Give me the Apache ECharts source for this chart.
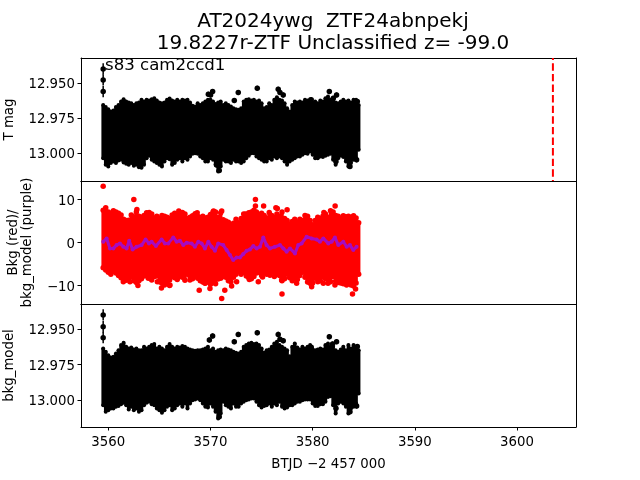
<!DOCTYPE html>
<html><head><meta charset="utf-8">
<style>html,body{margin:0;padding:0;background:#fff}#c{width:640px;height:480px}</style>
<script src="https://cdn.jsdelivr.net/npm/echarts@6/dist/echarts.min.js"></script>
</head><body><div id="c"></div>
<script>
const timeGrid=[3559.5,3559.75,3560,3560.25,3560.5,3560.75,3561,3561.25,3561.5,3561.75,
3562,3562.25,3562.5,3562.75,3563,3563.25,3563.5,3563.75,3564,3564.25,
3564.5,3564.75,3565,3565.25,3565.5,3565.75,3566,3566.25,3566.5,3566.75,
3567,3567.25,3567.5,3567.75,3568,3568.25,3568.5,3568.75,3569,3569.25,
3569.5,3569.75,3570,3570.25,3570.5,3570.75,3571,3571.25,3571.5,3571.75,
3572,3572.25,3572.5,3572.75,3573,3573.25,3573.5,3573.75,3574,3574.25,
3574.5,3574.75,3575,3575.25,3575.5,3575.75,3576,3576.25,3576.5,3576.75,
3577,3577.25,3577.5,3577.75,3578,3578.25,3578.5,3578.75,3579,3579.25,
3579.5,3579.75,3580,3580.25,3580.5,3580.75,3581,3581.25,3581.5,3581.75,
3582,3582.25,3582.5,3582.75,3583,3583.25,3583.5,3583.75,3584,3584.25,3584.5];
const tmagTop=[12.9657,12.9673,12.9688,12.9704,12.9697,12.9673,12.9657,12.9633,12.9616,12.9633,
12.9640,12.9645,12.9657,12.9645,12.9640,12.9621,12.9633,12.9621,12.9626,12.9616,
12.9609,12.9626,12.9640,12.9645,12.9640,12.9621,12.9611,12.9626,12.9633,12.9621,
12.9633,12.9621,12.9626,12.9621,12.9640,12.9664,12.9669,12.9645,12.9657,12.9645,
12.9633,12.9621,12.9621,12.9633,12.9650,12.9640,12.9633,12.9657,12.9645,12.9657,
12.9669,12.9681,12.9688,12.9692,12.9681,12.9633,12.9621,12.9616,12.9626,12.9621,
12.9633,12.9626,12.9645,12.9681,12.9673,12.9645,12.9657,12.9621,12.9602,12.9621,
12.9626,12.9645,12.9681,12.9704,12.9657,12.9633,12.9640,12.9633,12.9640,12.9621,
12.9626,12.9616,12.9640,12.9633,12.9645,12.9626,12.9633,12.9609,12.9597,12.9621,
12.9621,12.9640,12.9645,12.9633,12.9621,12.9633,12.9626,12.9640,12.9621,12.9621,12.9657];
const tmagBottom=[13.0038,13.0085,13.0097,13.0073,13.0061,13.0073,13.0054,13.0049,13.0068,13.0078,
13.0085,13.0073,13.0092,13.0085,13.0102,13.0107,13.0085,13.0038,13.0021,13.0049,
13.0061,13.0073,13.0085,13.0097,13.0061,13.0038,13.0045,13.0085,13.0073,13.0049,
13.0038,13.0061,13.0038,13.0049,13.0026,13.0007,13.0002,13.0007,13.0026,13.0038,
13.0061,13.0061,13.0038,13.0049,13.0085,13.0133,13.0097,13.0049,13.0061,13.0061,
13.0073,13.0049,13.0061,13.0061,13.0073,13.0061,13.0038,13.0021,13.0002,13.0002,
13.0026,13.0038,13.0049,13.0061,13.0061,13.0038,13.0049,13.0026,13.0038,13.0026,
13.0038,13.0061,13.0085,13.0061,13.0049,13.0038,13.0026,13.0026,13.0014,13.0002,
13.0007,12.9990,13.0014,13.0038,13.0038,13.0026,13.0030,13.0021,13.0014,13.0007,
13.0049,13.0085,13.0038,13.0021,13.0030,13.0061,13.0097,13.0073,13.0049,13.0038,12.9978];
const modelTop=[12.9637,12.9660,12.9684,12.9700,12.9696,12.9672,12.9649,12.9613,12.9597,12.9625,
12.9637,12.9630,12.9644,12.9637,12.9649,12.9649,12.9625,12.9637,12.9625,12.9613,
12.9606,12.9637,12.9625,12.9637,12.9649,12.9625,12.9606,12.9625,12.9637,12.9625,
12.9630,12.9620,12.9625,12.9637,12.9644,12.9649,12.9653,12.9649,12.9649,12.9644,
12.9637,12.9625,12.9649,12.9637,12.9660,12.9649,12.9644,12.9649,12.9637,12.9644,
12.9649,12.9660,12.9667,12.9672,12.9660,12.9625,12.9613,12.9602,12.9597,12.9606,
12.9602,12.9613,12.9637,12.9667,12.9649,12.9644,12.9625,12.9602,12.9590,12.9613,
12.9625,12.9637,12.9649,12.9691,12.9625,12.9602,12.9630,12.9644,12.9625,12.9637,
12.9625,12.9613,12.9644,12.9649,12.9644,12.9637,12.9644,12.9613,12.9602,12.9625,
12.9625,12.9649,12.9660,12.9644,12.9625,12.9649,12.9613,12.9637,12.9613,12.9625,12.9649];
const modelBottom=[13.0036,13.0083,13.0072,13.0060,13.0060,13.0048,13.0043,13.0029,13.0020,13.0036,
13.0067,13.0048,13.0072,13.0060,13.0083,13.0072,13.0036,13.0020,13.0013,13.0029,
13.0036,13.0060,13.0072,13.0090,13.0072,13.0048,13.0036,13.0072,13.0060,13.0036,
13.0025,13.0048,13.0025,13.0060,13.0025,13.0001,12.9996,12.9989,13.0001,13.0025,
13.0048,13.0053,13.0025,13.0048,13.0083,13.0130,13.0095,13.0013,13.0036,13.0048,
13.0060,13.0025,13.0048,13.0048,13.0025,13.0013,13.0001,12.9996,12.9989,12.9989,
13.0013,13.0036,13.0053,13.0043,13.0036,13.0025,13.0048,13.0025,13.0036,13.0013,
13.0048,13.0060,13.0053,13.0036,13.0036,13.0025,13.0013,13.0013,13.0001,12.9996,
12.9996,12.9996,13.0025,13.0043,13.0043,13.0029,13.0029,13.0013,12.9978,12.9973,
13.0036,13.0095,13.0025,13.0013,13.0025,13.0048,13.0095,13.0060,13.0048,13.0025,12.9954];
const bkgTop=[7.4,8.0,7.0,6.7,7.3,7.0,6.7,6.3,5.3,5.0,
5.1,6.3,5.9,7.0,6.0,5.8,6.2,6.8,6.9,6.5,
5.6,6.0,5.5,6.2,6.0,5.8,5.5,6.3,6.7,6.4,
6.2,6.9,6.5,5.5,5.8,6.1,6.6,6.0,5.7,6.0,
5.6,5.8,6.4,7.0,7.0,5.8,6.8,5.2,4.9,4.6,
3.9,4.4,5.3,4.5,5.5,6.5,6.0,6.8,7.0,7.4,
7.0,6.4,6.7,6.2,5.6,6.9,6.2,5.7,6.5,6.0,
7.0,5.5,5.0,4.2,4.8,5.3,4.6,5.3,5.0,6.2,
6.0,5.0,4.0,5.0,5.8,5.4,6.0,6.5,5.8,7.3,
7.0,6.2,6.0,5.5,6.1,5.9,6.0,5.8,6.1,5.6,4.5];
const bkgBottom=[-6.0,-6.5,-7.0,-7.5,-6.8,-7.2,-7.8,-8.3,-8.7,-8.9,
-8.5,-8.0,-9.0,-9.4,-9.0,-8.5,-7.9,-7.5,-7.8,-8.8,
-8.0,-7.9,-9.2,-9.6,-10.0,-9.2,-8.8,-8.0,-8.3,-8.7,
-8.0,-8.2,-8.9,-7.5,-8.0,-8.5,-7.8,-8.4,-9.0,-9.3,
-9.5,-9.2,-9.8,-9.4,-9.7,-8.6,-8.4,-8.0,-8.2,-9.0,
-9.2,-8.2,-7.5,-6.8,-7.5,-7.0,-7.9,-8.3,-8.5,-8.0,
-7.2,-7.0,-7.8,-7.0,-7.5,-6.9,-7.0,-8.0,-7.5,-7.8,
-9.0,-8.5,-7.5,-8.3,-9.0,-8.5,-8.7,-7.8,-7.0,-8.2,
-9.3,-9.6,-9.5,-8.4,-9.2,-9.0,-8.0,-8.5,-9.6,-9.2,
-8.0,-9.1,-9.4,-9.5,-9.7,-9.0,-9.4,-10.0,-10.2,-9.5,-7.5];
const tmagOutliers=[[3559.5,12.940,0.004],[3559.5,12.9479,0.004],[3559.5,12.9562,0.004],
[3569.79,12.9581,0.0018],[3570.21,12.9562,0.0018],[3570.01,12.9586,0.0018],[3572.33,12.9626,0.0018],[3572.72,12.9569,0.0018],
[3574.58,12.9538,0.0018],[3576.63,12.9545,0.0018],[3576.8,12.9569,0.0018],[3577.12,12.9586,0.0018],[3579.86,12.9621,0.0018],
[3581.63,12.9562,0.0018],[3582.34,12.9586,0.0018],[3582.02,12.961,0.0018],[3584.37,12.9633,0.0018],
[3569.62,13.0045,0.0018],[3570.86,13.0126,0.0018],[3570.6,13.0086,0.0018],[3582.28,13.0062,0.0018],[3583.65,13.0097,0.0018],[3584.3,13.005,0.0018]];
const modelOutliers=[[3559.5,12.9401,0.004],[3559.5,12.9484,0.004],[3559.5,12.9561,0.004],
[3569.89,12.9577,0.0018],[3570.21,12.9549,0.0018],[3572.33,12.9589,0.0018],[3572.72,12.9538,0.0018],
[3574.58,12.9526,0.0018],[3576.63,12.9538,0.0018],[3576.8,12.9573,0.0018],[3577.12,12.9582,0.0018],[3579.86,12.9629,0.0018],
[3581.63,12.9554,0.0018],[3582.34,12.9589,0.0018],[3581.95,12.9606,0.0018],[3584.37,12.9624,0.0018],
[3569.62,13.0035,0.0018],[3570.86,13.0117,0.0018],[3570.6,13.007,0.0018],[3582.28,13.0058,0.0018],[3583.65,13.0082,0.0018],[3584.3,13.0042,0.0018]];
const bkgOutliers=[[3559.5,13],[3562.5,9.9],[3562.8,7.6],[3574.4,9.9],[3574.4,8.4],[3575.2,8.4],[3576.4,8.0],[3577.5,7.5],[3582.2,8.4],[3581.1,6.9],
[3570.3,7.2],[3571.1,7.2],[3568.7,6.8],[3566.9,7.2],[3573.44,6.5],[3576.54,7.8],
[3571.1,-13.1],[3571.4,-11.2],[3577,-12.1],[3568.9,-11.2],[3583.9,-12.1],[3584.2,-10.9],[3565.2,-10.7],[3562.9,-10.1],[3564.8,-9.2],[3566,-10.1],
[3561.47,-9.2],[3562.12,-9.2],[3563.91,-8.4],[3565.54,-9.6],[3566.03,-10],[3567.99,-8.8],[3569.46,-9.6],[3569.95,-10.8],[3572.07,-10.2],[3572.56,-9.2],
[3573.8,-8.7],[3574.68,-9.2],[3575.1,-8.1],[3575.82,-7.7],[3576.96,-8.8],[3578.43,-9.6],[3579.9,-10.4],[3581.04,-9.6],[3582.18,-10],[3583.32,-10]];
const modelLineT=[3559.51,3559.84,3560.16,3560.49,3560.81,3561.14,3561.47,3561.79,3562.05,3562.38,3562.77,3563.26,3563.65,3563.98,3564.24,3564.66,3565.22,3565.54,3565.87,3566.36,3566.69,3567.01,3567.34,3567.67,3568.15,3568.48,3568.81,3569.13,3569.46,3569.79,3570.11,3570.44,3570.76,3571.25,3571.58,3571.91,3572.23,3572.56,3572.88,3573.21,3573.54,3573.86,3574.19,3574.52,3574.84,3575.17,3575.49,3575.82,3576.31,3576.8,3577.13,3577.45,3577.78,3578.27,3578.59,3578.92,3579.41,3579.9,3580.39,3580.71,3581.04,3581.53,3581.86,3582.18,3582.51,3583,3583.33,3583.65,3583.98,3584.3];
const modelLineV=[0.08,0.85,-1.47,-1.47,-0.7,-0.31,-1.09,-1.47,0.31,-1.7,-1.09,-0.7,0.62,-0.31,0.08,-0.93,0.62,-0.31,-0.31,1.09,0.08,0.31,-0.7,-0.16,-0.31,-1.09,0.08,-0.31,-1.47,0.08,-1.09,-2.02,-0.31,-0.7,-1.86,-3.02,-4.19,-3.57,-3.57,-2.79,-2.02,-1.7,-0.93,-1.47,-1.09,1.09,-0.7,-1.47,-1.09,-0.7,-1.47,-2.25,-1.47,-2.63,-0.7,-0.31,1.24,0.85,0.62,0.08,0.85,-0.31,0.08,1.09,-0.7,0.08,-1.09,-0.7,-1.86,-1.09];
const xTicks=[3560,3570,3580,3590,3600];
const magTicks=[12.95,12.975,13];
const bkgTicks=[-10,0,10];
const eventTime=3603.51;
const titleText='AT2024ywg  ZTF24abnpekj\n19.8227r-ZTF Unclassified z= -99.0';
const noteText='s83 cam2ccd1';

const FONT='"DejaVu Sans"';
const L=81,W=495,H=123,tops=[58,181,304];
const xr=[3557.33,3605.77];
const yr=[[12.9322,13.0201],[-14.4,14.2],[12.9324,13.019]];
const grid=tops.map(t=>({left:L,top:t,width:W,height:H,show:false,outerBoundsMode:'none'}));
const xAxis=tops.map((t,i)=>({type:'value',gridIndex:i,min:xr[0],max:xr[1],position:'bottom',
  splitLine:{show:false},
  axisLine:{show:true,onZero:false,lineStyle:{color:'#000',width:1}},
  axisTick:{show:i===2,length:3.5,customValues:xTicks,lineStyle:{color:'#000'}},
  axisLabel:{show:i===2,color:'#000',fontFamily:FONT,fontSize:13.3,margin:9,customValues:xTicks,formatter:v=>String(v)},
  name:i===2?'BTJD \u22122 457 000':'',nameLocation:'middle',nameGap:31,nameTextStyle:{color:'#000',fontFamily:FONT,fontSize:13.3}}));
const yNames=['T mag','Bkg (red)/\nbkg_model (purple)','bkg_model'];
const yAxis=tops.map((t,i)=>({type:'value',gridIndex:i,inverse:i!==1,min:yr[i][0],max:yr[i][1],
  splitLine:{show:false},
  axisLine:{show:true,onZero:false,lineStyle:{color:'#000',width:1}},
  axisTick:{show:true,length:3.5,customValues:i===1?bkgTicks:magTicks,lineStyle:{color:'#000'}},
  axisLabel:{color:'#000',fontFamily:FONT,fontSize:13.3,margin:6,verticalAlign:'top',lineHeight:4,customValues:i===1?bkgTicks:magTicks,formatter:v=>i===1?String(v).replace('-','\u2212'):v.toFixed(3)},
  name:yNames[i],nameLocation:'middle',nameGap:i===1?46:64,nameRotate:90,nameTextStyle:{color:'#000',fontFamily:FONT,fontSize:13.3,lineHeight:14}}));
tops.forEach((t,i)=>{
  xAxis.push({type:'value',gridIndex:i,min:xr[0],max:xr[1],position:'top',splitLine:{show:false},axisLine:{show:true,onZero:false,lineStyle:{color:'#000'}},axisTick:{show:false},axisLabel:{show:false}});
  yAxis.push({type:'value',gridIndex:i,position:'right',min:yr[i][0],max:yr[i][1],splitLine:{show:false},axisLine:{show:true,onZero:false,lineStyle:{color:'#000'}},axisTick:{show:false},axisLabel:{show:false}});
});
function band(idx,lo,hi,color){
  return {type:'custom',xAxisIndex:idx,yAxisIndex:idx,silent:true,clip:true,
    data:timeGrid.map((t,k)=>[t,lo[k],hi[k]]),encode:{x:0,y:[1,2]},
    renderItem:(p,api)=>{const a=api.coord([api.value(0),api.value(1)]),b=api.coord([api.value(0),api.value(2)]);
      const w=api.size([0.25,0])[0]+1;
      return {type:'rect',shape:{x:a[0]-w/2,y:Math.min(a[1],b[1]),width:w,height:Math.abs(a[1]-b[1])},style:{fill:color}};}};
}
function errs(idx,d,color){
  return {type:'custom',xAxisIndex:idx,yAxisIndex:idx,silent:true,clip:true,data:d,encode:{x:0,y:1},
    renderItem:(p,api)=>{const a=api.coord([api.value(0),api.value(1)-api.value(2)]),b=api.coord([api.value(0),api.value(1)+api.value(2)]);
      return {type:'line',shape:{x1:a[0],y1:a[1],x2:b[0],y2:b[1]},style:{stroke:color,lineWidth:1.5}};}};
}
function pts(idx,d,color,size){return {type:'scatter',xAxisIndex:idx,yAxisIndex:idx,silent:true,symbol:'circle',symbolSize:size,itemStyle:{color:color,opacity:1},data:d};}
const edge=(lo,hi)=>timeGrid.flatMap((t,k)=>[[t,lo[k]],[t,hi[k]]]);
const series=[
  band(0,tmagBottom,tmagTop,'#000'),pts(0,edge(tmagBottom,tmagTop),'#000',4),errs(0,tmagOutliers,'#000'),pts(0,tmagOutliers.map(a=>[a[0],a[1]]),'#000',5.5),
  {type:'line',xAxisIndex:0,yAxisIndex:0,silent:true,symbol:'none',data:[[eventTime,yr[0][0]],[eventTime,yr[0][1]]],lineStyle:{color:'#ff0000',width:2,type:[7.4,3.2],dashOffset:5.3}},
  band(1,bkgBottom,bkgTop,'#ff0000'),pts(1,edge(bkgBottom,bkgTop),'#ff0000',5.5),pts(1,bkgOutliers,'#ff0000',5.5),
  {type:'line',xAxisIndex:1,yAxisIndex:1,silent:true,symbol:'circle',symbolSize:4,showSymbol:true,itemStyle:{color:'#a60cc0'},lineStyle:{color:'#a60cc0',width:3},data:modelLineT.map((t,k)=>[t,modelLineV[k]])},
  band(2,modelBottom,modelTop,'#000'),pts(2,edge(modelBottom,modelTop),'#000',4),errs(2,modelOutliers,'#000'),pts(2,modelOutliers.map(a=>[a[0],a[1]]),'#000',5.5)
];
const chart=echarts.init(document.getElementById('c'),null,{renderer:'canvas',width:640,height:480});
chart.setOption({animation:false,backgroundColor:'#fff',grid,xAxis,yAxis,series,
  title:[{text:titleText,left:328,top:6,textAlign:'center',textStyle:{color:'#000',fontFamily:FONT,fontSize:20,fontWeight:'normal',lineHeight:22}},
         {text:noteText,left:100,top:52,textStyle:{color:'#000',fontFamily:FONT,fontSize:16.6,fontWeight:'normal'}}]});
</script></body></html>
